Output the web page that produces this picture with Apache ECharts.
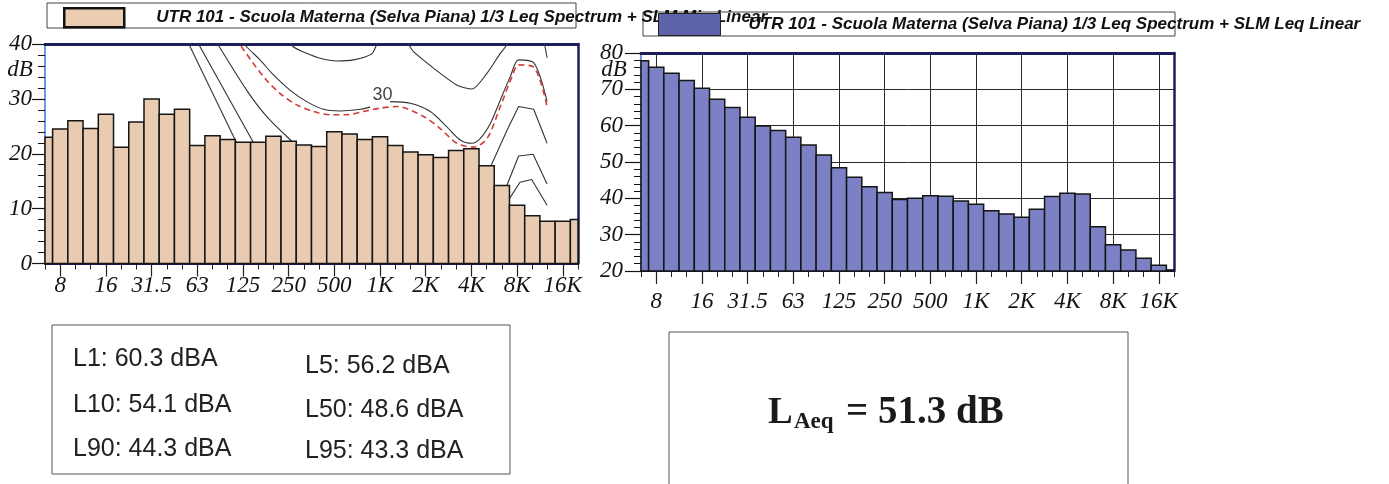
<!DOCTYPE html>
<html>
<head>
<meta charset="utf-8">
<script src="https://cdn.jsdelivr.net/npm/echarts@6/dist/echarts.min.js"></script>
<style>
  html, body { margin: 0; padding: 0; background: #ffffff; }
  #chart { width: 1389px; height: 484px; }
</style>
</head>
<body>
<div id="chart"></div>
<script>
// 1/3-octave band centre frequencies (Hz)
const bandLabels = ['6.3','8','10','12.5','16','20','25','31.5','40','50','63','80','100','125','160','200','250','315','400','500','630','800','1K','1.25K','1.6K','2K','2.5K','3.15K','4K','5K','6.3K','8K','10K','12.5K','16K','20K'];

// SLM Min, linear, per band (dB)
const minSpectrumDb = [23.0, 24.5, 26.0, 24.6, 27.2, 21.2, 25.8, 30.0, 27.2, 28.1, 21.5, 23.3, 22.6, 22.1, 22.1, 23.2, 22.3, 21.6, 21.3, 24.0, 23.6, 22.6, 23.1, 21.5, 20.3, 19.8, 19.3, 20.6, 20.9, 17.8, 14.2, 10.6, 8.7, 7.7, 7.7, 8.0];

// SLM Leq, linear, per band (dB)
const leqSpectrumDb = [77.9, 76.1, 74.4, 72.4, 70.3, 67.3, 65.0, 62.3, 59.9, 58.7, 56.8, 54.7, 51.9, 48.4, 45.8, 43.2, 41.6, 39.7, 40.0, 40.7, 40.6, 39.3, 38.4, 36.6, 35.7, 34.8, 37.0, 40.5, 41.4, 41.2, 32.2, 27.2, 25.8, 23.5, 21.6, 20.3];

const minSeriesName = 'UTR 101 - Scuola Materna (Selva Piana) 1/3 Leq Spectrum + SLM Min Linear';
const leqSeriesName = 'UTR 101 - Scuola Materna (Selva Piana) 1/3 Leq Spectrum + SLM Leq Linear';

// value-axis tick labels (dB)
const minDbTicks = [0, 10, 20, 30, 40];
const leqDbTicks = [20, 30, 40, 50, 60, 70, 80];

// reference curves on the Min spectrum: [frequency Hz, dB]; null = break in the line
const lowFreqContourA = [[50, 42.6], [150, 15.2]];
const lowFreqContourB = [[57, 42.6], [220, 13.4]];
const lowFreqContourC = [[75, 42.6], [88, 39.5], [133, 31.6], [180, 26.8], [256, 22.6], [363, 18.9]];
const contour30 = [[108, 42.6], [133, 39.5], [163, 37.1], [199, 34.4], [256, 31.6], [330, 29.5], [425, 28.1], [547, 27.8], [740, 28.1], [861, 28.5], null,
                   [1164, 29.5], [1578, 29.2], [2138, 27.7], [2748, 24.9], [3365, 22.5], [4018, 21.9], [4560, 22.8], [5300, 25.5], [6166, 29.8], [7178, 34.1], [8128, 37.1], [10210, 36.6], [12500, 29.5]];
const dashedContour = [[103, 42.6], [123, 39.5], [171, 34.1], [220, 31.0], [284, 28.9], [365, 27.7], [470, 27.1], [605, 27.1], [778, 27.7], [1000, 28.3], [1288, 28.6], [1932, 26.8], [2485, 24.6], [3200, 21.9], [4111, 21.2], [5047, 22.8], [6166, 28.6], [7362, 34.1], [8128, 36.2], [10210, 35.8], [12500, 28.6]];
const contour40 = [[240, 41.5], [269, 39.5], [330, 38.3], [404, 37.4], [520, 36.9], [668, 37.1], [883, 38.2], [1000, 40.6], [1450, 40.6], [1660, 38.6], [2244, 35.6], [3200, 32.5], [4018, 31.8], [5047, 34.7], [6166, 38.3], [6761, 39.8], [7500, 44], [10000, 47], [12500, 37.5]];
const highFreqContourE = [[5000, 16.0], [6823, 24.3], [8128, 28.6], [10210, 28.1], [12500, 21.9]];
const highFreqContourF = [[6600, 13.3], [8128, 19.6], [10116, 19.9], [12500, 14.5]];
const highFreqContourG = [[6600, 10.5], [8300, 14.8], [9900, 15.3], [12500, 10.6]];

// label of the 30 contour: [frequency Hz, dB, level]
const contourLabel = [1040, 30.7, 30];

// statistical levels (dBA) and overall Leq
const percentileLevels = [['L1', 60.3], ['L5', 56.2], ['L10', 54.1], ['L50', 48.6], ['L90', 44.3], ['L95', 43.3]];
const laeqDb = 51.3;

const serif = 'Liberation Serif';
const sans = 'Liberation Sans';
const navy = '#1b1e5a';
const ink = '#141414';

const fMin = Math.pow(10, 0.8);
const fMax = Math.pow(10, 0.8 + 0.1 * (bandLabels.length - 1));
const isOctave = (i) => i % 3 === 1;

function splitSegments(points) {
  const out = [[]];
  points.forEach(p => { if (p === null) out.push([]); else out[out.length - 1].push(p); });
  return out.filter(s => s.length > 1);
}

// band bars centred on the tick of each band, clipped to the plot frame
function bandBar(baseDb) {
  return function (params, api) {
    const i = api.value(0);
    const top = api.coord([i, api.value(1)]);
    const bottom = api.coord([i, baseDb]);
    const w = api.size([1, 0])[0];
    const cs = params.coordSys;
    const shape = echarts.graphic.clipRectByRect(
      { x: top[0] - w / 2, y: top[1], width: w, height: bottom[1] - top[1] },
      { x: cs.x, y: cs.y, width: cs.width, height: cs.height });
    return shape && { type: 'rect', shape, style: api.style() };
  };
}

function xAxesFor(gridIndex, labelMargin, withGrid) {
  return [
    { gridIndex, type: 'category', data: bandLabels, boundaryGap: false, position: 'bottom',
      axisLine: { show: true, onZero: false, lineStyle: { color: navy, width: 2 } },
      axisTick: { show: true, interval: 0, length: 6, lineStyle: { color: '#222', width: 1 } },
      axisLabel: { show: false }, splitLine: { show: false } },
    { gridIndex, type: 'category', data: bandLabels, boundaryGap: false, position: 'bottom',
      axisLine: { show: false, onZero: false },
      axisTick: { show: true, interval: isOctave, length: 13, lineStyle: { color: '#222', width: 1.2 } },
      axisLabel: { show: true, interval: isOctave, margin: labelMargin, fontFamily: serif, fontStyle: 'italic', fontSize: 23, color: ink },
      splitLine: { show: withGrid, interval: isOctave, lineStyle: { color: '#2a2a2a', width: 1 } } },
    { gridIndex, type: 'log', logBase: 10, min: fMin, max: fMax, position: 'top',
      axisLine: { show: true, onZero: false, lineStyle: { color: navy, width: 3 } },
      axisTick: { show: false }, axisLabel: { show: false }, splitLine: { show: false } }
  ];
}

function yAxesFor(gridIndex, ticks, tickLen, labelMargin, withGrid) {
  return [
    { gridIndex, type: 'value', min: ticks[0], max: ticks[ticks.length - 1], interval: ticks[1] - ticks[0], position: 'left',
      axisLine: { show: true, onZero: false, lineStyle: { color: '#3a76d6', width: 1.5 } },
      axisTick: { show: true, length: tickLen, lineStyle: { color: ink, width: 1.2 } },
      minorTick: { show: true, splitNumber: 5, length: 7, lineStyle: { color: ink, width: 1 } },
      axisLabel: { margin: labelMargin, fontFamily: serif, fontStyle: 'italic', fontSize: 23, color: ink },
      splitLine: { show: withGrid, lineStyle: { color: '#2a2a2a', width: 1 } } },
    { gridIndex, type: 'value', min: 0, max: 1, position: 'right',
      axisLine: { show: true, onZero: false, lineStyle: { color: navy, width: 2.5 } },
      axisTick: { show: false }, axisLabel: { show: false }, splitLine: { show: false } }
  ];
}

const contourDefs = [
  { pts: lowFreqContourA, smooth: false, dashed: false },
  { pts: lowFreqContourB, smooth: false, dashed: false },
  { pts: lowFreqContourC, smooth: 0.3, dashed: false },
  { pts: contour30, smooth: 0.3, dashed: false },
  { pts: contour40, smooth: 0.25, dashed: false },
  { pts: dashedContour, smooth: 0.3, dashed: true },
  { pts: highFreqContourE, smooth: false, dashed: false },
  { pts: highFreqContourF, smooth: false, dashed: false },
  { pts: highFreqContourG, smooth: false, dashed: false }
];

const contourSeries = [];
contourDefs.forEach(def => {
  splitSegments(def.pts).forEach(seg => {
    contourSeries.push({
      type: 'line', xAxisIndex: 2, yAxisIndex: 0, data: seg, symbol: 'none', silent: true, z: 1,
      smooth: def.smooth, clip: true,
      lineStyle: def.dashed ? { color: '#d23a3a', width: 1.6, type: [6, 4] } : { color: '#333333', width: 1.1 }
    });
  });
});

const statTexts = percentileLevels.map((p, k) => {
  const col = k % 2, row = Math.floor(k / 2);
  const xs = [73, 305];
  const ys = [[359.5, 366.5], [405.5, 410.5], [449, 451.5]];
  return { type: 'text', style: { text: p[0] + ': ' + p[1].toFixed(1) + ' dBA', x: xs[col], y: ys[row][col],
    font: '25px "Liberation Sans"', fill: '#222', align: 'left', verticalAlign: 'middle' } };
});

const option = {
  animation: false,
  backgroundColor: '#ffffff',
  grid: [
    { left: 45, top: 44, width: 533, height: 219.5, containLabel: false },
    { left: 641, top: 53, width: 533, height: 218, containLabel: false }
  ],
  xAxis: [...xAxesFor(0, 10.5, false), ...xAxesFor(1, 19, true)],
  yAxis: [...yAxesFor(0, minDbTicks, 13, 13, false), ...yAxesFor(1, leqDbTicks, 16, 18, true)],
  legend: [
    { data: [minSeriesName], left: 63, top: 7, padding: 0, itemWidth: 60, itemHeight: 19, icon: 'rect', selectedMode: false,
      itemStyle: { color: '#ebcdb2', borderColor: '#111', borderWidth: 2.5 },
      textStyle: { fontFamily: sans, fontSize: 17, fontStyle: 'italic', fontWeight: 'bold', color: '#111', padding: [0, 0, 0, 27] } },
    { data: [leqSeriesName], left: 658, top: 13, padding: 0, itemWidth: 62, itemHeight: 22, icon: 'rect', selectedMode: false,
      itemStyle: { color: '#5d62aa', borderColor: '#222', borderWidth: 1 },
      textStyle: { fontFamily: sans, fontSize: 17, fontStyle: 'italic', fontWeight: 'bold', color: '#111', padding: [0, 0, 0, 23] } }
  ],
  series: [
    ...contourSeries,
    { type: 'scatter', xAxisIndex: 2, yAxisIndex: 0, data: [[contourLabel[0], contourLabel[1]]], symbolSize: 0, silent: true, z: 2,
      label: { show: true, position: 'inside', formatter: String(contourLabel[2]), fontFamily: sans, fontSize: 18, color: '#111' } },
    { type: 'custom', name: minSeriesName, xAxisIndex: 0, yAxisIndex: 0, z: 3,
      data: minSpectrumDb.map((v, i) => [i, v]), encode: { x: 0, y: 1 },
      renderItem: bandBar(minDbTicks[0]),
      itemStyle: { color: '#e8cbb0', borderColor: '#151515', borderWidth: 1.5 } },
    { type: 'custom', name: leqSeriesName, xAxisIndex: 3, yAxisIndex: 2, z: 3,
      data: leqSpectrumDb.map((v, i) => [i, v]), encode: { x: 0, y: 1 },
      renderItem: bandBar(leqDbTicks[0]),
      itemStyle: { color: '#7c81c5', borderColor: '#151515', borderWidth: 1.5 } }
  ],
  graphic: [
    { type: 'rect', shape: { x: 47, y: 3, width: 529, height: 25 }, style: { fill: 'none', stroke: '#444', lineWidth: 1 } },
    { type: 'rect', shape: { x: 643, y: 12, width: 532, height: 24 }, style: { fill: 'none', stroke: '#444', lineWidth: 1 } },
    { type: 'text', style: { text: 'dB', x: 20, y: 70, font: 'italic 23px "Liberation Serif"', fill: ink, align: 'center', verticalAlign: 'middle' } },
    { type: 'text', style: { text: 'dB', x: 614, y: 70, font: 'italic 23px "Liberation Serif"', fill: ink, align: 'center', verticalAlign: 'middle' } },
    { type: 'rect', shape: { x: 52, y: 325, width: 458, height: 149 }, style: { fill: 'none', stroke: '#555', lineWidth: 1 } },
    ...statTexts,
    { type: 'rect', shape: { x: 669, y: 332, width: 459, height: 170 }, style: { fill: 'none', stroke: '#555', lineWidth: 1 } },
    { type: 'text', style: { text: 'L', x: 768, y: 413, font: 'bold 37px "Liberation Serif"', fill: '#1a1a1a', align: 'left', verticalAlign: 'middle' } },
    { type: 'text', style: { text: 'Aeq', x: 794, y: 422, font: 'bold 23px "Liberation Serif"', fill: '#1a1a1a', align: 'left', verticalAlign: 'middle' } },
    { type: 'text', style: { text: '= ' + laeqDb.toFixed(1) + ' dB', x: 846, y: 413, font: 'bold 39px "Liberation Serif"', fill: '#1a1a1a', align: 'left', verticalAlign: 'middle' } }
  ]
};

const chart = echarts.init(document.getElementById('chart'), null, { renderer: 'canvas' });
chart.setOption(option);
</script>
</body>
</html>
